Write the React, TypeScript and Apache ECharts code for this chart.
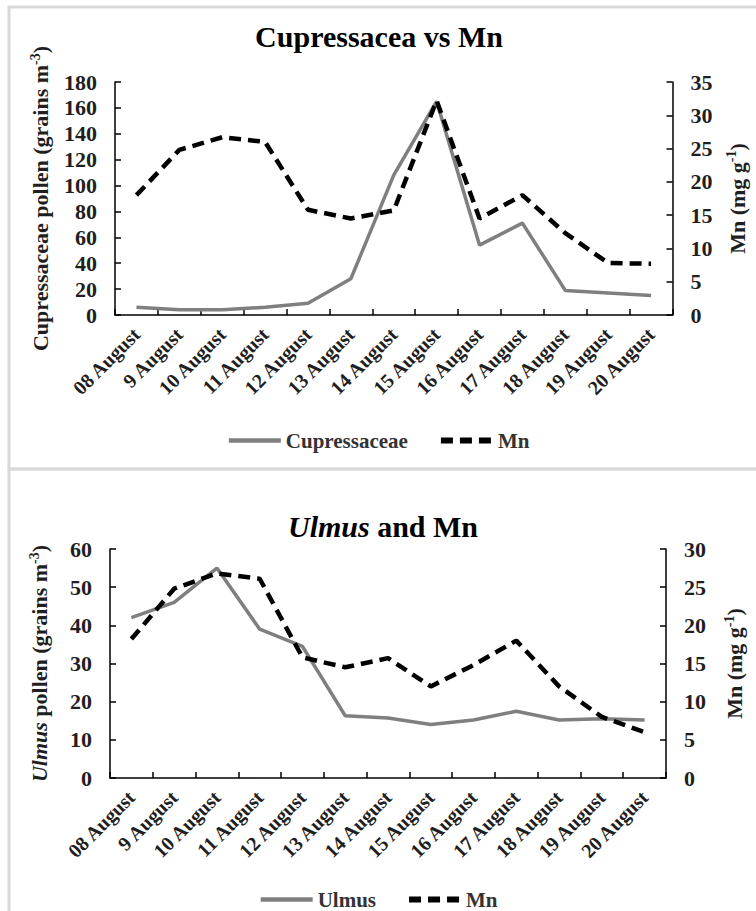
import React, { useEffect, useRef } from "react";
import * as echarts from "echarts";

const categories = [
  "08 August", "9 August", "10 August", "11 August", "12 August", "13 August", "14 August",
  "15 August", "16 August", "17 August", "18 August", "19 August", "20 August",
];
const cupressaceae = [6, 4, 4, 6, 9, 28, 108, 165, 54, 71, 19, 17, 15];
const mnTop = [18, 24.8, 26.7, 26, 15.8, 14.5, 15.7, 32.2, 14.5, 18, 12.3, 7.8, 7.7];
const ulmus = [42, 46, 55, 39, 34.5, 16.3, 15.7, 14, 15.2, 17.5, 15.2, 15.5, 15.2];
const mnBottom = [18.2, 24.8, 26.8, 26.1, 15.8, 14.5, 15.7, 12, 14.8, 18, 12, 8, 6];

const FONT = "'Liberation Serif', 'Times New Roman', serif";
const TXT = "#1f1f1f";
const GREY = "#7f7f7f";
const DASH = [12, 7];

export default function App() {
  const ref = useRef<HTMLDivElement>(null);
  useEffect(() => {
    const chart = echarts.init(ref.current!, undefined, { renderer: "svg" });
    const axisCommon = {
      axisLine: { show: true, lineStyle: { color: "#000", width: 1.5 } },
      axisTick: { show: true, inside: true, length: 6, lineStyle: { color: "#000", width: 1.5 } },
      splitLine: { show: false },
      axisLabel: { color: TXT, fontFamily: FONT, fontWeight: "bold", fontSize: 22, margin: 18 },
    };
    const nameRich = {
      b: { fontFamily: FONT, fontWeight: "bold", fontSize: 22, color: TXT, lineHeight: 25 },
      i: { fontFamily: FONT, fontWeight: "bold", fontStyle: "italic", fontSize: 22, color: TXT, lineHeight: 25 },
      s: { fontFamily: FONT, fontWeight: "bold", fontSize: 14, color: TXT, verticalAlign: "top", lineHeight: 14 },
    };
    const xCommon = {
      type: "category",
      data: categories,
      boundaryGap: true,
      axisLine: { show: true, lineStyle: { color: "#000", width: 1.5 } },
      axisTick: { show: true, inside: true, length: 6, lineStyle: { color: "#000", width: 1.5 } },
      axisLabel: {
        interval: 0, rotate: 45, color: TXT, fontFamily: FONT, fontWeight: "bold", fontSize: 20, margin: 16,
      },
    };
    const solid = (name: string, data: number[], x: number, y: number) => ({
      type: "line", name, data, xAxisIndex: x, yAxisIndex: y, symbol: "none",
      lineStyle: { color: GREY, width: 3.5 }, itemStyle: { color: GREY },
    });
    const dashed = (data: number[], x: number, y: number) => ({
      type: "line", name: "Mn", data, xAxisIndex: x, yAxisIndex: y, symbol: "none", z: 3,
      lineStyle: { color: "#000", width: 4.5, type: DASH }, itemStyle: { color: "#000" },
    });
    const legendCommon = {
      left: "center", itemWidth: 52, itemHeight: 14, itemGap: 30,
      itemStyle: { color: "rgba(0,0,0,0)", borderWidth: 0, opacity: 0 },
      textStyle: { fontFamily: FONT, fontSize: 21, fontWeight: "bold", color: "#333" },
    };
    const legendData = (first: string) => [
      { name: first, lineStyle: { color: GREY, width: 4.5, type: "solid" } },
      { name: "Mn", lineStyle: { color: "#000", width: 6, type: DASH } },
    ];
    chart.setOption({
      animation: false,
      backgroundColor: "#fff",
      graphic: [
        { type: "rect", shape: { x: 9, y: 7, width: 760, height: 462 }, style: { fill: "none", stroke: "#d9d9d9", lineWidth: 3 } },
        { type: "rect", shape: { x: 9, y: 469, width: 760, height: 460 }, style: { fill: "none", stroke: "#d9d9d9", lineWidth: 3 } },
      ],
      title: [
        {
          text: "Cupressacea vs Mn", left: 374, top: 16, textAlign: "center",
          textStyle: { fontFamily: FONT, fontWeight: "bold", fontSize: 30, color: "#000" },
        },
        {
          text: "{i|Ulmus}{b| and Mn}", left: 378, top: 506, textAlign: "center",
          textStyle: {
            rich: {
              i: { fontFamily: FONT, fontWeight: "bold", fontStyle: "italic", fontSize: 30, color: "#000" },
              b: { fontFamily: FONT, fontWeight: "bold", fontSize: 30, color: "#000" },
            },
          },
        },
      ],
      legend: [
        { ...legendCommon, data: legendData("Cupressaceae"), top: 425 },
        { ...legendCommon, data: legendData("Ulmus"), top: 884 },
      ],
      grid: [
        { left: 115, top: 82, width: 558, height: 233 },
        { left: 110, top: 549, width: 556, height: 229 },
      ],
      xAxis: [
        { ...xCommon, gridIndex: 0 },
        { ...xCommon, gridIndex: 1 },
      ],
      yAxis: [
        {
          ...axisCommon, type: "value", gridIndex: 0, position: "left", min: 0, max: 180, interval: 20,
          name: "{b|Cupressaceae pollen (grains m}{s|-3}{b|)}", nameLocation: "middle", nameRotate: 90, nameGap: 62,
          nameTextStyle: { rich: nameRich },
        },
        {
          ...axisCommon, type: "value", gridIndex: 0, position: "right", min: 0, max: 35, interval: 5,
          name: "{b|Mn (mg g}{s|-1}{b|)}", nameLocation: "middle", nameRotate: 90, nameGap: 52,
          nameTextStyle: { rich: nameRich },
        },
        {
          ...axisCommon, type: "value", gridIndex: 1, position: "left", min: 0, max: 60, interval: 10,
          name: "{i|Ulmus}{b| pollen (grains m}{s|-3}{b|)}", nameLocation: "middle", nameRotate: 90, nameGap: 58,
          nameTextStyle: { rich: nameRich },
        },
        {
          ...axisCommon, type: "value", gridIndex: 1, position: "right", min: 0, max: 30, interval: 5,
          name: "{b|Mn (mg g}{s|-1}{b|)}", nameLocation: "middle", nameRotate: 90, nameGap: 56,
          nameTextStyle: { rich: nameRich },
        },
      ],
      series: [
        solid("Cupressaceae", cupressaceae, 0, 0),
        dashed(mnTop, 0, 1),
        solid("Ulmus", ulmus, 1, 2),
        dashed(mnBottom, 1, 3),
      ],
    });
    return () => chart.dispose();
  }, []);
  return (
    <div
      ref={ref}
      style={{ position: "absolute", left: 0, top: 0, width: 756, height: 911, background: "#fff" }}
    />
  );
}
